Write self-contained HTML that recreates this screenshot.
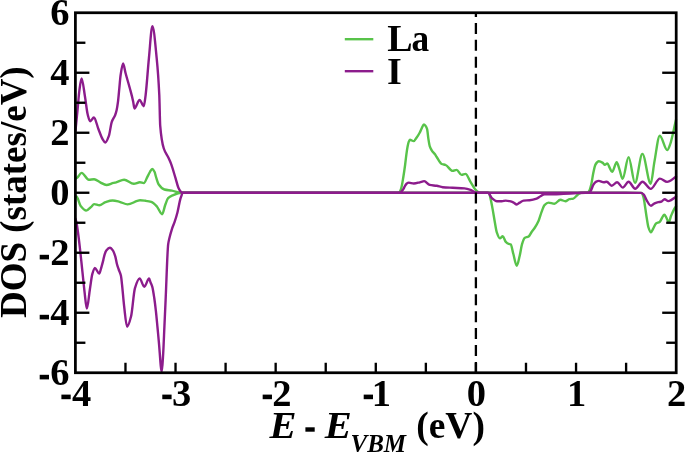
<!DOCTYPE html>
<html><head><meta charset="utf-8"><style>
html,body{margin:0;padding:0;background:#fff;}
body{width:685px;height:453px;overflow:hidden;}
svg{display:block;}
#w{width:685px;height:453px;will-change:transform;}
text{font-family:"Liberation Serif",serif;font-weight:bold;fill:#000;}
</style></head><body><div id="w">
<svg width="685" height="453" viewBox="0 0 685 453">
<rect width="685" height="453" fill="#fff"/>
<g fill="none" stroke-width="2.4" stroke-linejoin="round" stroke-linecap="round" transform="translate(0,0.3)">
<path d="M75.50,178.50 C76.00,178.20 76.50,177.97 77.00,177.60 C78.53,176.47 80.07,172.60 81.60,172.60 C84.00,172.60 86.40,179.40 88.80,179.40 C90.57,179.40 92.33,179.00 94.10,179.00 C96.13,179.00 98.17,181.06 100.20,182.00 C102.27,182.95 104.33,184.70 106.40,184.70 C108.77,184.70 111.13,183.20 113.50,182.60 C114.37,182.38 115.23,182.23 116.10,182.00 C118.77,181.30 121.43,179.40 124.10,179.40 C127.33,179.40 130.57,183.50 133.80,183.50 C135.83,183.50 137.87,182.00 139.90,182.00 C141.20,182.00 142.50,182.80 143.80,182.80 C145.03,182.80 146.27,178.57 147.50,176.30 C148.33,174.77 149.17,172.77 150.00,171.50 C150.73,170.38 151.47,168.70 152.20,168.70 C152.97,168.70 153.73,170.08 154.50,171.50 C154.97,172.37 155.43,174.76 155.90,176.20 C156.85,179.13 157.80,182.84 158.75,184.20 C160.63,186.89 162.52,188.71 164.40,189.20 C166.90,189.85 169.40,189.85 171.90,190.30 C174.93,190.85 177.97,192.50 181.00,192.50 L300.00,192.50 L397.50,192.50 C398.17,192.50 398.83,192.21 399.50,191.80 C400.13,191.41 400.77,189.31 401.40,187.20 C402.03,185.09 402.67,180.81 403.30,177.00 C403.90,173.39 404.50,169.21 405.10,164.70 C405.50,161.69 405.90,157.74 406.30,154.80 C406.73,151.61 407.17,148.41 407.60,146.20 C407.97,144.33 408.33,142.51 408.70,141.60 C409.10,140.61 409.50,139.50 409.90,139.50 C411.20,139.50 412.50,140.80 413.80,140.80 C414.70,140.80 415.60,138.74 416.50,137.50 C417.60,135.98 418.70,134.27 419.80,132.20 C420.47,130.95 421.13,129.09 421.80,127.80 C422.50,126.45 423.20,124.20 423.90,124.20 C424.47,124.20 425.03,124.92 425.60,125.60 C426.10,126.20 426.60,127.11 427.10,128.80 C427.53,130.26 427.97,135.88 428.40,138.60 C428.87,141.53 429.33,144.68 429.80,146.10 C430.43,148.02 431.07,149.01 431.70,150.00 C432.80,151.72 433.90,152.47 435.00,154.00 C435.57,154.79 436.13,155.85 436.70,156.70 C438.37,159.21 440.03,163.00 441.70,163.70 C443.00,164.25 444.30,164.21 445.60,164.70 C447.93,165.57 450.27,170.60 452.60,170.60 C453.93,170.60 455.27,169.60 456.60,169.60 C458.23,169.60 459.87,174.60 461.50,174.60 C462.83,174.60 464.17,173.60 465.50,173.60 C467.17,173.60 468.83,179.03 470.50,181.60 C472.50,184.68 474.50,188.91 476.50,190.50 C477.67,191.43 478.83,192.50 480.00,192.50 L530.00,192.50 C549.17,192.50 568.33,192.49 587.50,192.30 C588.17,192.29 588.83,191.15 589.50,190.00 C590.10,188.97 590.70,186.51 591.30,184.00 C591.97,181.21 592.63,175.66 593.30,172.60 C594.03,169.24 594.77,165.38 595.50,164.20 C596.60,162.43 597.70,161.00 598.80,161.00 C600.13,161.00 601.47,161.80 602.80,162.60 C603.47,163.00 604.13,164.60 604.80,164.60 C605.63,164.60 606.47,163.20 607.30,163.20 C608.10,163.20 608.90,166.20 609.70,167.60 C610.50,169.00 611.30,171.60 612.10,171.60 C613.63,171.60 615.17,162.00 616.70,162.00 C617.67,162.00 618.63,166.91 619.60,169.60 C620.60,172.38 621.60,178.50 622.60,178.50 C624.60,178.50 626.60,156.80 628.60,156.80 C630.73,156.80 632.87,182.60 635.00,182.60 C637.47,182.60 639.93,153.60 642.40,153.60 C645.17,153.60 647.93,183.40 650.70,183.40 C651.93,183.40 653.17,168.20 654.40,161.60 C656.20,151.96 658.00,135.40 659.80,135.40 C662.27,135.40 664.73,149.80 667.20,149.80 C668.30,149.80 669.40,146.04 670.50,143.00 C671.33,140.70 672.17,136.60 673.00,133.00 C673.43,131.13 673.87,128.96 674.30,127.00 C674.87,124.44 675.43,122.00 676.00,119.50" stroke="#58c34a"/>
<path d="M75.50,196.50 C75.80,196.40 76.10,196.20 76.40,196.20 C77.87,196.20 79.33,204.13 80.80,205.90 C82.60,208.08 84.40,210.30 86.20,210.30 C87.87,210.30 89.53,207.91 91.20,206.50 C92.17,205.68 93.13,203.80 94.10,203.80 C95.87,203.80 97.63,205.00 99.40,205.00 C101.43,205.00 103.47,202.45 105.50,201.80 C107.87,201.05 110.23,200.20 112.60,200.20 C114.93,200.20 117.27,200.95 119.60,201.50 C122.27,202.13 124.93,204.10 127.60,204.10 C130.83,204.10 134.07,201.55 137.30,200.60 C138.20,200.34 139.10,199.90 140.00,199.90 C141.87,199.90 143.73,200.24 145.60,200.50 C147.48,200.76 149.37,201.01 151.25,201.60 C153.13,202.19 155.02,204.21 156.90,206.20 C158.63,208.03 160.37,213.90 162.10,213.90 C163.17,213.90 164.23,207.20 165.30,204.40 C166.23,201.95 167.17,198.73 168.10,197.80 C169.67,196.23 171.23,195.65 172.80,195.00 C175.53,193.86 178.27,192.50 181.00,192.50 L300.00,192.50 L488.90,192.50 C489.57,192.50 490.23,197.01 490.90,199.90 C491.53,202.64 492.17,206.28 492.80,209.80 C493.47,213.50 494.13,218.00 494.80,221.70 C495.47,225.40 496.13,230.14 496.80,232.10 C497.80,235.04 498.80,238.00 499.80,238.00 C500.80,238.00 501.80,236.00 502.80,236.00 C503.80,236.00 504.80,240.60 505.80,241.60 C506.77,242.57 507.73,243.31 508.70,243.60 C509.37,243.80 510.03,243.76 510.70,244.00 C511.57,244.32 512.43,250.40 513.30,253.50 C514.43,257.56 515.57,265.40 516.70,265.40 C517.70,265.40 518.70,259.49 519.70,255.50 C520.50,252.31 521.30,246.19 522.10,243.60 C522.93,240.90 523.77,238.14 524.60,237.60 C525.93,236.74 527.27,236.98 528.60,236.20 C529.60,235.62 530.60,233.11 531.60,231.70 C532.60,230.29 533.60,229.22 534.60,227.70 C535.90,225.72 537.20,223.64 538.50,220.70 C539.50,218.44 540.50,214.41 541.50,211.80 C542.50,209.19 543.50,205.81 544.50,204.80 C545.83,203.45 547.17,202.30 548.50,202.30 C550.47,202.30 552.43,203.40 554.40,203.40 C556.40,203.40 558.40,199.50 560.40,199.50 C562.07,199.50 563.73,200.90 565.40,200.90 C566.70,200.90 568.00,199.20 569.30,198.90 C570.63,198.59 571.97,198.63 573.30,198.30 C574.97,197.88 576.63,194.89 578.30,193.90 C579.30,193.31 580.30,192.50 581.30,192.50 L610.00,192.50 C620.57,192.50 631.13,192.51 641.70,192.60 C642.33,192.61 642.97,195.18 643.60,197.50 C644.17,199.58 644.73,204.36 645.30,208.00 C645.80,211.21 646.30,214.94 646.80,218.00 C647.30,221.06 647.80,224.93 648.30,226.50 C649.20,229.32 650.10,232.00 651.00,232.00 C651.73,232.00 652.47,229.67 653.20,228.40 C654.13,226.78 655.07,223.89 656.00,223.20 C657.20,222.32 658.40,222.40 659.60,221.60 C661.20,220.53 662.80,214.40 664.40,214.40 C664.97,214.40 665.53,215.87 666.10,216.80 C666.97,218.22 667.83,222.00 668.70,222.00 C669.50,222.00 670.30,217.47 671.10,215.50 C672.07,213.12 673.03,210.72 674.00,209.00 C674.67,207.82 675.33,207.00 676.00,206.00" stroke="#58c34a"/>
<path d="M75.50,130.00 C76.17,123.33 76.83,116.84 77.50,110.00 C78.13,103.50 78.77,94.54 79.40,90.00 C80.13,84.75 80.87,78.20 81.60,78.20 C82.73,78.20 83.87,89.78 85.00,96.50 C85.90,101.84 86.80,110.76 87.70,114.20 C88.53,117.39 89.37,121.00 90.20,121.00 C91.43,121.00 92.67,117.20 93.90,117.20 C95.37,117.20 96.83,124.77 98.30,128.40 C99.77,132.03 101.23,136.62 102.70,139.00 C103.53,140.36 104.37,142.20 105.20,142.20 C106.43,142.20 107.67,138.83 108.90,135.50 C109.83,132.98 110.77,124.52 111.70,121.80 C112.87,118.40 114.03,117.76 115.20,114.70 C115.67,113.48 116.13,112.03 116.60,110.00 C117.07,107.97 117.53,104.98 118.00,101.40 C118.43,98.07 118.87,92.60 119.30,88.20 C119.73,83.80 120.17,77.90 120.60,75.00 C121.43,69.41 122.27,63.20 123.10,63.20 C123.93,63.20 124.77,69.89 125.60,73.00 C127.03,78.35 128.47,82.81 129.90,88.20 C131.00,92.34 132.10,96.10 133.20,101.40 C133.60,103.33 134.00,108.20 134.40,108.20 C136.13,108.20 137.87,99.70 139.60,99.70 C141.00,99.70 142.40,105.90 143.80,105.90 C144.40,105.90 145.00,99.58 145.60,95.00 C146.70,86.60 147.80,69.11 148.90,58.00 C150.07,46.22 151.23,25.90 152.40,25.90 C153.83,25.90 155.27,43.59 156.70,58.00 C157.57,66.71 158.43,76.44 159.30,95.00 C159.60,101.42 159.90,121.58 160.20,125.30 C161.40,140.17 162.60,144.48 163.80,148.20 C165.27,152.74 166.73,153.87 168.20,157.00 C169.10,158.92 170.00,160.76 170.90,163.10 C172.47,167.18 174.03,172.96 175.60,178.10 C176.53,181.16 177.47,185.45 178.40,187.50 C179.10,189.03 179.80,190.28 180.50,191.00 C181.17,191.69 181.83,192.50 182.50,192.50 L300.00,192.50 L398.50,192.50 C399.17,192.50 399.83,192.26 400.50,192.00 C401.43,191.63 402.37,190.15 403.30,188.80 C403.87,187.98 404.43,186.53 405.00,185.60 C405.50,184.78 406.00,183.77 406.50,183.40 C407.27,182.83 408.03,182.30 408.80,182.30 C410.47,182.30 412.13,183.20 413.80,183.20 C415.80,183.20 417.80,182.47 419.80,182.00 C421.27,181.66 422.73,180.80 424.20,180.80 C426.03,180.80 427.87,184.19 429.70,184.60 C432.03,185.12 434.37,185.11 436.70,185.50 C438.70,185.83 440.70,186.70 442.70,186.90 C446.00,187.23 449.30,187.32 452.60,187.50 C456.57,187.72 460.53,187.75 464.50,188.10 C466.50,188.28 468.50,188.86 470.50,189.50 C472.50,190.14 474.50,192.50 476.50,192.50 L530.00,192.50 L589.00,192.50 C589.60,192.50 590.20,191.39 590.80,190.50 C591.63,189.26 592.47,185.83 593.30,184.50 C594.13,183.17 594.97,181.91 595.80,181.50 C596.80,181.01 597.80,180.60 598.80,180.60 C600.47,180.60 602.13,181.90 603.80,181.90 C604.77,181.90 605.73,181.50 606.70,181.50 C608.37,181.50 610.03,185.50 611.70,185.50 C613.50,185.50 615.30,181.90 617.10,181.90 C619.00,181.90 620.90,187.30 622.80,187.30 C624.73,187.30 626.67,181.50 628.60,181.50 C630.80,181.50 633.00,188.40 635.20,188.40 C637.63,188.40 640.07,181.50 642.50,181.50 C645.23,181.50 647.97,188.60 650.70,188.60 C653.77,188.60 656.83,178.30 659.90,178.30 C662.30,178.30 664.70,181.60 667.10,181.60 C670.07,181.60 673.03,178.20 676.00,176.50" stroke="#8c1c8c"/>
<path d="M75.50,218.50 C75.87,220.00 76.23,221.16 76.60,223.00 C77.40,227.02 78.20,233.65 79.00,240.00 C80.10,248.74 81.20,260.05 82.30,270.30 C83.07,277.44 83.83,285.64 84.60,292.00 C85.33,298.08 86.07,308.30 86.80,308.30 C87.83,308.30 88.87,295.49 89.90,289.00 C90.70,283.97 91.50,276.59 92.30,273.80 C93.17,270.78 94.03,267.60 94.90,267.60 C96.33,267.60 97.77,273.30 99.20,273.30 C99.97,273.30 100.73,269.04 101.50,266.50 C102.10,264.51 102.70,262.18 103.30,259.80 C103.73,258.08 104.17,255.65 104.60,254.30 C105.17,252.54 105.73,250.91 106.30,250.20 C107.50,248.70 108.70,247.40 109.90,247.40 C110.93,247.40 111.97,248.85 113.00,250.30 C113.80,251.42 114.60,253.78 115.40,256.50 C115.93,258.31 116.47,262.02 117.00,264.00 C117.57,266.10 118.13,267.55 118.70,269.20 C119.43,271.34 120.17,272.12 120.90,275.30 C121.27,276.89 121.63,280.77 122.00,284.00 C122.70,290.18 123.40,299.73 124.10,305.60 C125.10,313.98 126.10,326.40 127.10,326.40 C128.43,326.40 129.77,321.08 131.10,315.90 C132.37,310.98 133.63,292.20 134.90,288.00 C136.47,282.81 138.03,278.20 139.60,278.20 C141.17,278.20 142.73,286.40 144.30,286.40 C145.90,286.40 147.50,278.20 149.10,278.20 C149.57,278.20 150.03,280.78 150.50,282.00 C151.10,283.56 151.70,284.42 152.30,286.50 C152.97,288.81 153.63,293.51 154.30,298.00 C154.83,301.59 155.37,306.03 155.90,310.80 C156.40,315.28 156.90,320.79 157.40,326.00 C157.87,330.86 158.33,336.12 158.80,341.00 C159.80,351.47 160.80,371.50 161.80,371.50 C162.27,371.50 162.73,360.68 163.20,352.90 C163.60,346.23 164.00,335.32 164.40,326.50 C164.80,317.68 165.20,308.75 165.60,300.00 C166.47,281.04 167.33,250.21 168.20,243.80 C168.63,240.59 169.07,239.32 169.50,237.50 C170.33,234.00 171.17,231.06 172.00,228.50 C172.90,225.74 173.80,223.97 174.70,221.30 C175.63,218.53 176.57,215.55 177.50,211.90 C178.43,208.25 179.37,202.07 180.30,198.80 C180.73,197.28 181.17,196.23 181.60,195.00 C181.90,194.15 182.20,192.50 182.50,192.50 L300.00,192.50 L487.90,192.50 C489.23,192.50 490.57,196.76 491.90,197.90 C493.53,199.29 495.17,200.90 496.80,200.90 L501.80,200.90 C503.13,200.90 504.47,200.30 505.80,200.30 C507.10,200.30 508.40,200.62 509.70,200.90 C511.03,201.18 512.37,201.69 513.70,202.30 C514.70,202.76 515.70,204.20 516.70,204.20 C517.70,204.20 518.70,202.87 519.70,202.30 C521.00,201.56 522.30,200.46 523.60,200.30 C525.60,200.05 527.60,200.10 529.60,199.90 C531.93,199.66 534.27,199.11 536.60,198.30 C537.90,197.85 539.20,196.62 540.50,195.90 C541.83,195.16 543.17,193.90 544.50,193.90 L553.40,193.90 C556.73,193.90 560.07,193.65 563.40,193.50 C568.03,193.29 572.67,193.00 577.30,192.80 C579.93,192.69 582.57,192.50 585.20,192.50 L610.00,192.50 C620.33,192.50 630.67,192.51 641.00,192.60 C641.93,192.61 642.87,193.50 643.80,194.40 C644.77,195.33 645.73,198.60 646.70,200.10 C648.13,202.33 649.57,205.50 651.00,205.50 C652.20,205.50 653.40,203.54 654.60,203.00 C655.80,202.46 657.00,201.99 658.20,201.80 C659.13,201.65 660.07,201.67 661.00,201.50 C662.20,201.28 663.40,198.90 664.60,198.90 C665.80,198.90 667.00,200.80 668.20,200.80 C669.40,200.80 670.60,199.99 671.80,199.40 C673.20,198.71 674.60,197.47 676.00,196.50" stroke="#8c1c8c"/>
</g>
<line x1="475.9" y1="373.0" x2="475.9" y2="12.75" stroke="#000" stroke-width="2.3" stroke-dasharray="11 5.955"/>
<g stroke="#000" stroke-width="2.35" fill="none">
<line x1="75.40" y1="342.75" x2="85.40" y2="342.75"/>
<line x1="676.20" y1="342.75" x2="666.20" y2="342.75"/>
<line x1="75.40" y1="312.75" x2="89.40" y2="312.75"/>
<line x1="676.20" y1="312.75" x2="662.20" y2="312.75"/>
<line x1="75.40" y1="282.75" x2="85.40" y2="282.75"/>
<line x1="676.20" y1="282.75" x2="666.20" y2="282.75"/>
<line x1="75.40" y1="252.75" x2="89.40" y2="252.75"/>
<line x1="676.20" y1="252.75" x2="662.20" y2="252.75"/>
<line x1="75.40" y1="222.75" x2="85.40" y2="222.75"/>
<line x1="676.20" y1="222.75" x2="666.20" y2="222.75"/>
<line x1="75.40" y1="192.75" x2="89.40" y2="192.75"/>
<line x1="676.20" y1="192.75" x2="662.20" y2="192.75"/>
<line x1="75.40" y1="162.75" x2="85.40" y2="162.75"/>
<line x1="676.20" y1="162.75" x2="666.20" y2="162.75"/>
<line x1="75.40" y1="132.75" x2="89.40" y2="132.75"/>
<line x1="676.20" y1="132.75" x2="662.20" y2="132.75"/>
<line x1="75.40" y1="102.75" x2="85.40" y2="102.75"/>
<line x1="676.20" y1="102.75" x2="666.20" y2="102.75"/>
<line x1="75.40" y1="72.75" x2="89.40" y2="72.75"/>
<line x1="676.20" y1="72.75" x2="662.20" y2="72.75"/>
<line x1="75.40" y1="42.75" x2="85.40" y2="42.75"/>
<line x1="676.20" y1="42.75" x2="666.20" y2="42.75"/>
<line x1="125.47" y1="372.75" x2="125.47" y2="362.75"/>
<line x1="175.53" y1="372.75" x2="175.53" y2="362.75"/>
<line x1="225.59" y1="372.75" x2="225.59" y2="362.75"/>
<line x1="275.66" y1="372.75" x2="275.66" y2="362.75"/>
<line x1="325.73" y1="372.75" x2="325.73" y2="362.75"/>
<line x1="375.79" y1="372.75" x2="375.79" y2="362.75"/>
<line x1="425.86" y1="372.75" x2="425.86" y2="362.75"/>
<line x1="475.92" y1="372.75" x2="475.92" y2="362.75"/>
<line x1="525.99" y1="372.75" x2="525.99" y2="362.75"/>
<line x1="576.05" y1="372.75" x2="576.05" y2="362.75"/>
<line x1="626.11" y1="372.75" x2="626.11" y2="362.75"/>
<rect x="75.4" y="12.75" width="600.80" height="360.00" stroke-width="2.75"/>
</g>
<g font-size="38.5">
<text x="69.6" y="25.45" text-anchor="end">6</text>
<text x="69.6" y="85.45" text-anchor="end">4</text>
<text x="69.6" y="145.45" text-anchor="end">2</text>
<text x="69.6" y="205.45" text-anchor="end">0</text>
<text x="69.6" y="265.45" text-anchor="end">2</text>
<text x="69.6" y="325.45" text-anchor="end">4</text>
<text x="69.6" y="385.45" text-anchor="end">6</text>
<text x="72.07" y="405.6">4</text>
<text x="172.04" y="405.6">3</text>
<text x="272.25" y="405.6">2</text>
<text x="371.82" y="405.6">1</text>
<text x="476.42" y="405.6" text-anchor="middle">0</text>
<text x="576.55" y="405.6" text-anchor="middle">1</text>
<text x="676.68" y="405.6" text-anchor="middle">2</text>
<rect x="39.70" y="254.80" width="9.30" height="4.60"/>
<rect x="39.70" y="314.80" width="9.30" height="4.60"/>
<rect x="39.70" y="374.80" width="9.30" height="4.60"/>
<rect x="61.40" y="394.60" width="9.30" height="4.60"/>
<rect x="162.29" y="394.60" width="9.30" height="4.60"/>
<rect x="262.67" y="394.60" width="9.30" height="4.60"/>
<rect x="363.70" y="394.60" width="9.30" height="4.60"/>
</g>
<line x1="344.8" y1="39.2" x2="373.3" y2="39.2" stroke="#58c34a" stroke-width="2.4"/>
<line x1="344.8" y1="71.2" x2="373.3" y2="71.2" stroke="#8c1c8c" stroke-width="2.4"/>
<text x="387.3" y="51.3" font-size="38">L</text><text transform="translate(411.6,51.3) scale(0.93,1)" font-size="38">a</text>
<text x="387.1" y="83.7" font-size="38">I</text>
<text transform="translate(25.6,192.2) rotate(-90)" text-anchor="middle" font-size="37">DOS (states/eV)</text>
<text transform="translate(269.5,437.7) scale(1.08,1)" font-size="37.5" font-style="italic">E</text>
<rect x="305.4" y="427.3" width="9.3" height="4.4" fill="#000"/>
<text transform="translate(324.7,437.7) scale(1.08,1)" font-size="37.5" font-style="italic">E</text>
<text x="350.5" y="452.3" font-size="25" font-style="italic">VBM</text>
<text x="416.2" y="437.7" font-size="37.5">(eV)</text>
</svg></div>
</body></html>
